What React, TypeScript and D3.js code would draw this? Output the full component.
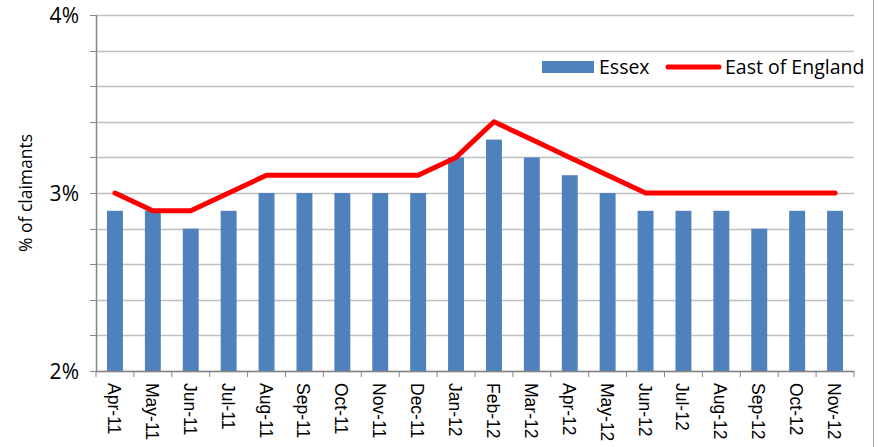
import React from 'react';
import * as d3 from 'd3';

const months = [
  'Apr-11', 'May-11', 'Jun-11', 'Jul-11', 'Aug-11', 'Sep-11', 'Oct-11', 'Nov-11', 'Dec-11', 'Jan-12',
  'Feb-12', 'Mar-12', 'Apr-12', 'May-12', 'Jun-12', 'Jul-12', 'Aug-12', 'Sep-12', 'Oct-12', 'Nov-12',
];
const essex = [2.9, 2.9, 2.8, 2.9, 3.0, 3.0, 3.0, 3.0, 3.0, 3.2, 3.3, 3.2, 3.1, 3.0, 2.9, 2.9, 2.9, 2.8, 2.9, 2.9];
const eastOfEngland = [3.0, 2.9, 2.9, 3.0, 3.1, 3.1, 3.1, 3.1, 3.1, 3.2, 3.4, 3.3, 3.2, 3.1, 3.0, 3.0, 3.0, 3.0, 3.0, 3.0];
const gridTicks = [2, 2.2, 2.4, 2.6, 2.8, 3, 3.2, 3.4, 3.6, 3.8, 4];
const labelTicks = [2, 3, 4];

const W = 882;
const H = 447;
const left = 96;
const right = 854;
const top = 15;
const bottom = 371;

export default function App() {
  const x = d3.scaleBand<string>().domain(months).range([left, right]).paddingInner(0.58).paddingOuter(0.29);
  const step = (right - left) / months.length;
  const y = d3.scaleLinear().domain([2, 4]).range([bottom, top]);

  const line = d3.line<number>()
    .x((_, i) => (x(months[i]) as number) + x.bandwidth() / 2)
    .y(d => y(d));

  const axisColor = '#868686';
  const sans = "'Open Sans', sans-serif";

  return (
    <svg width={W} height={H} style={{ position: 'absolute', left: 0, top: 0 }}>
      <rect x={0} y={0} width={W} height={H} fill="#fff" />
      <line x1={873.5} x2={873.5} y1={0} y2={H} stroke="#a6a6a6" strokeWidth={1} />
      {gridTicks.map(t => (
        <g key={t}>
          <line x1={left} x2={right} y1={Math.round(y(t)) + 0.5} y2={Math.round(y(t)) + 0.5} stroke="#c0c0c0" strokeWidth={1.5} />
          <line x1={left - 6} x2={left} y1={Math.round(y(t)) + 0.5} y2={Math.round(y(t)) + 0.5} stroke={axisColor} strokeWidth={1} />
        </g>
      ))}
      {months.map((m, i) => (
        <rect key={m} x={x(m)} y={y(essex[i])} width={x.bandwidth()} height={bottom - y(essex[i])} fill="#4f81bd" />
      ))}
      <line x1={left + 0.5} x2={left + 0.5} y1={top} y2={bottom} stroke={axisColor} strokeWidth={1.5} />
      <line x1={left} x2={right} y1={bottom + 0.5} y2={bottom + 0.5} stroke={axisColor} strokeWidth={1.5} />
      {d3.range(months.length + 1).map(i => (
        <line key={i} x1={left + i * step} x2={left + i * step} y1={bottom} y2={bottom + 6} stroke={axisColor} strokeWidth={1} />
      ))}
      <path d={line(eastOfEngland) || ''} fill="none" stroke="#ff0000" strokeWidth={5} strokeLinejoin="round" strokeLinecap="round" />
      {labelTicks.map(t => (
        <text key={t} x={79} y={y(t) + 8} textAnchor="end" fontFamily={sans} fontSize={21} fill="#000">
          {t}%
        </text>
      ))}
      {months.map(m => {
        const cx = (x(m) as number) + x.bandwidth() / 2;
        return (
          <text key={m} transform={`translate(${cx - 7},${bottom + 12}) rotate(90)`} fontFamily="'Liberation Sans', Arial, sans-serif" fontSize={17.5} fill="#000">
            {m}
          </text>
        );
      })}
      <text transform={`translate(32,${193}) rotate(-90)`} textAnchor="middle" fontFamily={sans} fontSize={17.5} fill="#000">
        % of claimants
      </text>
      <rect x={542} y={61} width={52} height={12} fill="#4f81bd" />
      <text x={599} y={74} fontFamily={sans} fontSize={19.5} fill="#000">Essex</text>
      <line x1={668} x2={719} y1={67} y2={67} stroke="#ff0000" strokeWidth={5} strokeLinecap="round" />
      <text x={725} y={74} fontFamily={sans} fontSize={19.5} fill="#000">East of England</text>
    </svg>
  );
}
